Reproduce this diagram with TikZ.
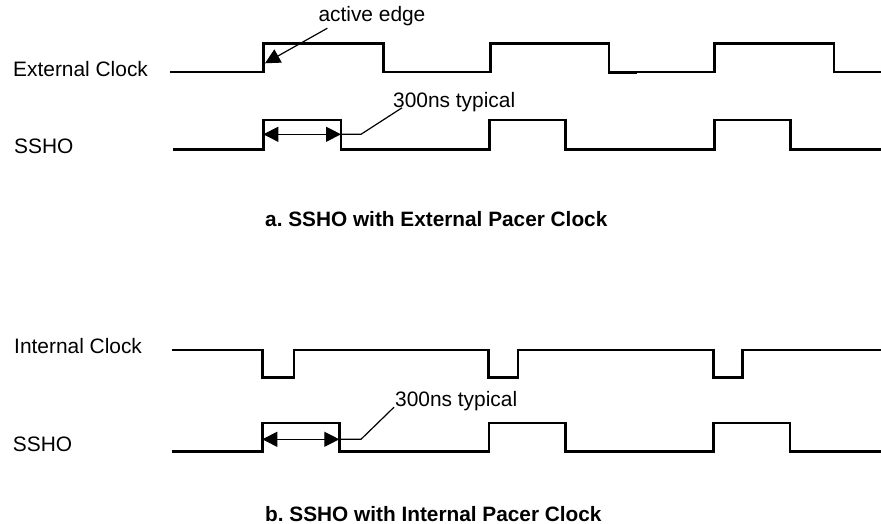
\documentclass[tikz,border=0pt]{standalone}
\usepackage{fontspec}
\setmainfont{Liberation Sans}
\usepackage{tikz}
\usetikzlibrary{arrows.meta}

\begin{document}
\begin{tikzpicture}[
    x=10pt, y=-10pt,
    >={Triangle[length=15pt,width=15pt]},
    wave/.style={line width=2.6pt, line join=miter},
    pointer/.style={line width=1.2pt},
    lbl/.style={font=\fontsize{20.9}{24}\selectfont, inner sep=0pt, anchor=base west},
    caption/.style={lbl, font=\fontsize{20.8}{24}\selectfont\bfseries}
  ]
    \useasboundingbox (0,0) rectangle (88.1,52.4);

    % a. SSHO with external pacer clock
    \node[lbl] (extclk) at (1.3,7.67) {External Clock};
    \node[lbl] (sshoA) at (1.4,15.33) {SSHO};

    \draw[wave] (17.0,7.2)
      \foreach \up/\dn in {26.33/38.33,49.07/60.9,71.43/83.4} {
        -- (\up,7.2) -- (\up,4.33) -- (\dn,4.33) -- (\dn,7.2) }
      -- (88.1,7.2);
    \draw[wave] (60.8,7.3) -- (63.7,7.3);

    \draw[wave] (17.27,14.97)
      \foreach \up/\dn in {26.33/34.1,48.93/56.57,71.43/79.07} {
        -- (\up,14.97) -- (\up,12.0) -- (\dn,12.0) -- (\dn,14.97) }
      -- (88.1,14.97);

    \node[lbl] (active) at (31.83,2.17) {active edge};
    \coordinate (edgetip) at (26.5,6.33);
    \draw[pointer,->] ([xshift=9pt,yshift=-2pt]active.south west) -- (edgetip);

    \coordinate (spanAl) at (26.33,13.43);
    \coordinate (spanAr) at (34.1,13.43);
    \draw[pointer,<->] (spanAl) -- (spanAr);

    \node[lbl] (typA) at (39.3,10.73) {300ns typical};
    \draw[pointer] (spanAr) -- ++(2.0,0) -- ([xshift=9pt,yshift=-0.5pt]typA.base west);

    \node[caption] (capA) at (26.5,22.67) {a.\ SSHO with External Pacer Clock};

    % b. SSHO with internal pacer clock
    \node[lbl] (intclk) at (1.4,35.33) {Internal Clock};
    \node[lbl] (sshoB) at (1.27,45.17) {SSHO};

    \draw[wave] (17.17,35.0)
      \foreach \dn/\up in {26.27/29.4,48.87/51.8,71.33/74.27} {
        -- (\dn,35.0) -- (\dn,37.73) -- (\up,37.73) -- (\up,35.0) }
      -- (88.1,35.0);

    \draw[wave] (17.17,45.13)
      \foreach \up/\dn in {26.23/33.93,48.9/56.57,71.33/79.0} {
        -- (\up,45.13) -- (\up,42.3) -- (\dn,42.3) -- (\dn,45.13) }
      -- (88.1,45.13);

    \coordinate (spanBl) at (26.23,43.93);
    \coordinate (spanBr) at (33.93,43.93);
    \draw[pointer,<->] (spanBl) -- (spanBr);

    \node[lbl] (typB) at (39.5,40.67) {300ns typical};
    \draw[pointer] (spanBr) -- ++(2.17,0) -- ([xshift=-1pt,yshift=-0.5pt]typB.base west);

    \node[caption] (capB) at (26.5,52.1) {b.\ SSHO with Internal Pacer Clock};
\end{tikzpicture}
\end{document}
